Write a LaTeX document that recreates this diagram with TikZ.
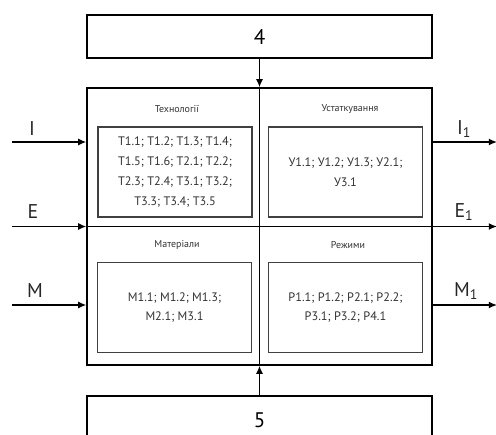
\documentclass[tikz,border=0pt]{standalone}
\usepackage{fontspec}
\setmainfont{PT Sans}
\usetikzlibrary{arrows.meta}

\begin{document}
\begin{tikzpicture}[x=0.03cm,y=-0.03cm,
    block/.style={draw,line width=1.2pt,minimum width=10.35cm,inner sep=0pt},
    cell/.style={draw=black!75,line width=0.9pt,minimum width=4.62cm,minimum height=2.7cm,inner sep=0pt,align=center,font=\fontsize{10.5}{17}\selectfont,text=black!80},
    title/.style={font=\fontsize{8.5}{10}\selectfont,text=black!80},
    flow/.style={line width=1.2pt,-{Latex[length=7pt,width=6pt]}},
    lbl/.style={font=\fontsize{17}{17}\selectfont,text=black!85}]
\useasboundingbox (0,0) rectangle (496,434);

% Outer blocks
\node[block,minimum height=1.29cm,font=\fontsize{18}{18}\selectfont] (b4) at (259.5,36.5) {4};
\node[block,minimum height=8.31cm] (main) at (259.5,226.5) {};
\node[block,minimum height=1.44cm,font=\fontsize{18}{18}\selectfont] (b5) at (259.5,420) {5};

% Dividers
\draw[line width=1.2pt] (main.north) -- (main.south);
\draw[line width=1.2pt] (main.west) -- (main.east);

% Cells
\node[title] (t1) at (177,109) {Технології};
\node[cell] (c1) at (175,172) {Т1.1; Т1.2; Т1.3; Т1.4;\\Т1.5; Т1.6; Т2.1; Т2.2;\\Т2.3; Т2.4; Т3.1; Т3.2;\\Т3.3; Т3.4; Т3.5};
\node[title] (t2) at (350,109) {Устаткування};
\node[cell] (c2) at (345.5,172) {У1.1; У1.2; У1.3; У2.1;\\У3.1};
\node[title] (t3) at (177,245) {Матеріали};
\node[cell] (c3) at (174.5,307.5) {М1.1; М1.2; М1.3;\\М2.1; М3.1};
\node[title] (t4) at (348,245) {Режими};
\node[cell] (c4) at (345.5,307.5) {Р1.1; Р1.2; Р2.1; Р2.2;\\Р3.1; Р3.2; Р4.1};

% Inputs
\coordinate (inI) at (12,142);
\coordinate (inE) at (12,226.5);
\coordinate (inM) at (12,305);
\draw[flow] (inI) -- (main.west |- inI);
\draw[flow] (inE) -- (main.west);
\draw[flow] (inM) -- (main.west |- inM);
\node[lbl] (lI) at (32,129) {I};
\node[lbl] (lE) at (33,212) {E};
\node[lbl] (lM) at (35,291) {M};

% Outputs
\coordinate (outI) at (497,142);
\coordinate (outE) at (497,226.5);
\coordinate (outM) at (497,305);
\draw[flow] (main.east |- outI) -- (outI);
\draw[flow] (main.east) -- (outE);
\draw[flow] (main.east |- outM) -- (outM);
\node[lbl] (rI) at (464,129) {I\textsubscript{1}};
\node[lbl] (rE) at (464,212) {E\textsubscript{1}};
\node[lbl] (rM) at (466,291) {M\textsubscript{1}};

% Controls
\draw[flow] (b4.south) -- (main.north);
\draw[flow] (b5.north) -- (main.south);
\end{tikzpicture}
\end{document}
